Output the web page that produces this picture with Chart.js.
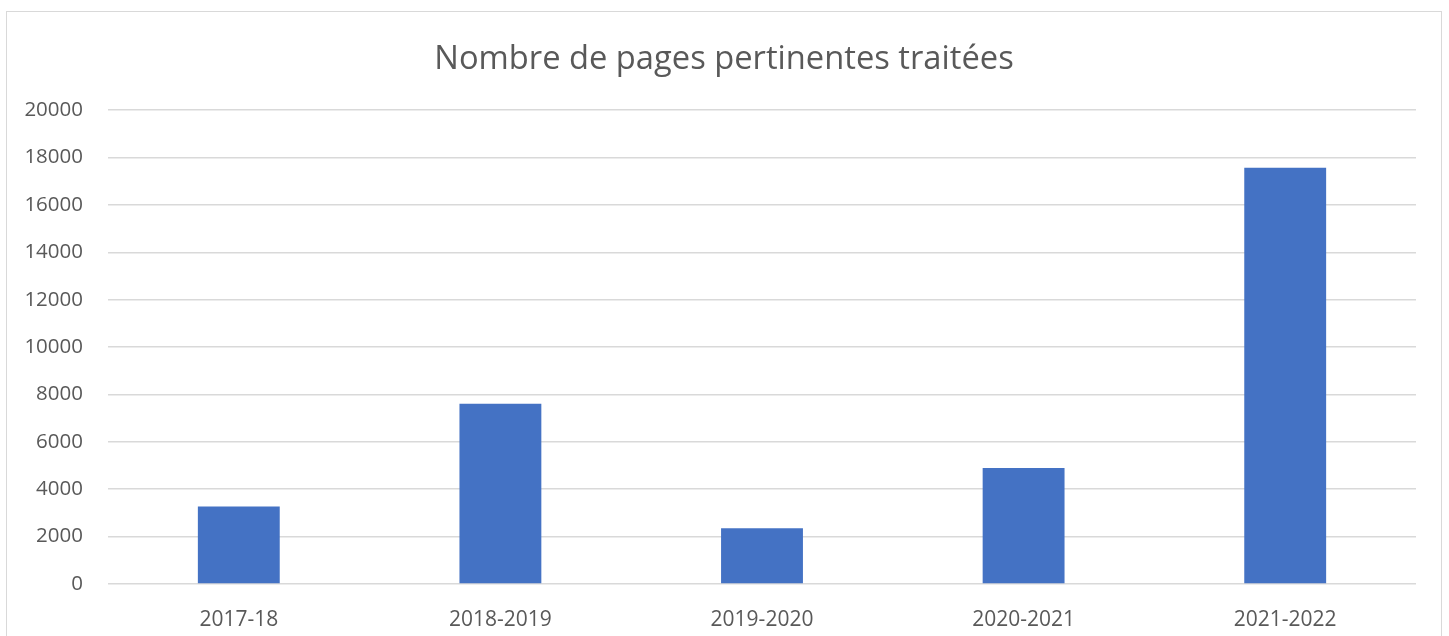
<!DOCTYPE html>
<html>
<head>
<meta charset="utf-8">
<script src="https://cdn.jsdelivr.net/npm/chart.js@4"></script>
<style>
  html, body { margin: 0; padding: 0; background: #fff; overflow: hidden; }
  #frame {
    position: absolute; left: 6px; top: 11px;
    width: 1434px; height: 640px;
    border: 1px solid #d9d9d9;
  }
  #chart { display: block; }
</style>
</head>
<body>
<div id="frame"><canvas id="chart" width="1434" height="640"></canvas></div>
<script>
const categories = ['2017-18', '2018-2019', '2019-2020', '2020-2021', '2021-2022'];
const pages = [3270, 7610, 2350, 4900, 17570];
const chartTitle = 'Nombre de pages pertinentes traitées';

const textColor = '#595959';
const gridColor = '#d9d9d9';
const fontFamily = '"Open Sans", sans-serif';

const ctx = document.getElementById('chart').getContext('2d');
const chart = new Chart(ctx, {
    type: 'bar',
    data: {
        labels: categories,
        datasets: [{
            label: chartTitle,
            data: pages,
            backgroundColor: '#4472c4',
            borderWidth: 0,
            barPercentage: 0.313,
            categoryPercentage: 1
        }]
    },
    options: {
        responsive: false,
        animation: false,
        layout: { padding: { left: 0, right: 0, top: 0, bottom: 18 } },
        plugins: {
            legend: { display: false },
            tooltip: { enabled: false },
            title: {
                display: true,
                text: chartTitle,
                color: textColor,
                font: { family: fontFamily, size: 32.7, weight: 'normal' },
                padding: { top: 28, bottom: 31 }
            }
        },
        scales: {
            x: {
                grid: { display: false },
                border: { display: false },
                ticks: {
                    color: textColor,
                    font: { family: fontFamily, size: 21 },
                    padding: 15
                },
                afterFit: (scale) => { scale.height = 50; }
            },
            y: {
                min: 0,
                max: 20000,
                grid: { color: gridColor, lineWidth: 1.5, drawTicks: false },
                border: { display: false },
                ticks: {
                    stepSize: 2000,
                    color: textColor,
                    font: { family: fontFamily, size: 20.5 },
                    padding: 25,
                    callback: (value) => String(value)
                },
                afterFit: (scale) => { scale.width = 101; }
            },
            // empty right-hand axis: only keeps a right margin so the title stays centred
            yRight: {
                position: 'right',
                grid: { display: false },
                border: { display: false },
                ticks: { display: false },
                afterFit: (scale) => { scale.width = 25; }
            }
        }
    }
});
</script>
</body>
</html>
